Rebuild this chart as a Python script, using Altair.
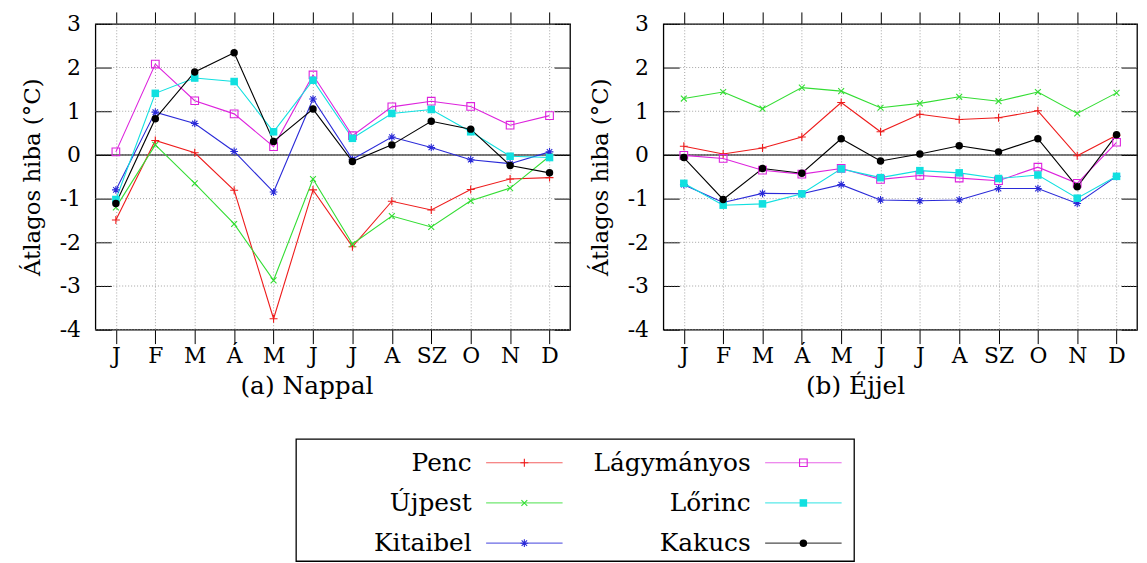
import altair as alt
import pandas as pd

months = ["J", "F", "M", "Á", "M", "J", "J", "A", "SZ", "O", "N", "D"]
stations = ["Penc", "Újpest", "Kitaibel", "Lágymányos", "Lőrinc", "Kakucs"]
colors = ["#ee1c1c", "#33dd33", "#2a2ad8", "#dd22dd", "#11e0e0", "#000000"]
y_ticks = [-4, -3, -2, -1, 0, 1, 2, 3]

# (a) Nappal
penc_day = [-1.49, 0.33, 0.05, -0.81, -3.75, -0.80, -2.10, -1.06, -1.26, -0.79, -0.55, -0.52]
ujpest_day = [-1.20, 0.23, -0.65, -1.58, -2.87, -0.55, -2.04, -1.40, -1.65, -1.05, -0.76, -0.03]
kitaibel_day = [-0.80, 0.98, 0.72, 0.08, -0.85, 1.28, -0.10, 0.41, 0.17, -0.11, -0.20, 0.07]
lagymanyos_day = [0.07, 2.08, 1.24, 0.94, 0.19, 1.83, 0.44, 1.10, 1.23, 1.11, 0.68, 0.90]
lorinc_day = [-1.02, 1.41, 1.76, 1.68, 0.53, 1.71, 0.38, 0.95, 1.04, 0.53, -0.03, -0.06]
kakucs_day = [-1.11, 0.83, 1.90, 2.34, 0.31, 1.05, -0.15, 0.23, 0.77, 0.59, -0.24, -0.41]

# (b) Éjjel
penc_night = [0.20, 0.02, 0.16, 0.41, 1.20, 0.53, 0.93, 0.81, 0.85, 1.01, -0.02, 0.45]
ujpest_night = [1.29, 1.44, 1.06, 1.54, 1.46, 1.08, 1.18, 1.33, 1.23, 1.44, 0.95, 1.42]
kitaibel_night = [-0.68, -1.09, -0.88, -0.89, -0.68, -1.03, -1.05, -1.03, -0.77, -0.77, -1.11, -0.49]
lagymanyos_night = [-0.01, -0.08, -0.35, -0.44, -0.31, -0.56, -0.47, -0.53, -0.59, -0.28, -0.65, 0.29]
lorinc_night = [-0.65, -1.15, -1.12, -0.89, -0.32, -0.52, -0.36, -0.41, -0.54, -0.46, -0.99, -0.49]
kakucs_night = [-0.06, -1.02, -0.31, -0.42, 0.37, -0.14, 0.02, 0.21, 0.07, 0.37, -0.73, 0.46]

day_series = [penc_day, ujpest_day, kitaibel_day, lagymanyos_day, lorinc_day, kakucs_day]
night_series = [penc_night, ujpest_night, kitaibel_night, lagymanyos_night, lorinc_night, kakucs_night]

FONT = "DejaVu Serif"

plus = "M-1,0L1,0M0,-1L0,1"
cross = "M-0.75,-0.75L0.75,0.75M-0.75,0.75L0.75,-0.75"
star = "M-1,0L1,0M0,-1L0,1M-0.7,-0.7L0.7,0.7M-0.7,0.7L0.7,-0.7"
shapes = [plus, cross, star, "square", "square", "circle"]
sizes = [64, 56, 72, 42, 45, 45]
leg_sizes = [36, 30, 40, 26, 30, 30]


def long_df(series):
    rows = []
    for st, vals in zip(stations, series):
        for i, v in enumerate(vals):
            rows.append({"station": st, "m": i, "v": v})
    return pd.DataFrame(rows)


month_expr = "[" + ",".join("'%s'" % m for m in months) + "][datum.value]"
minus_expr = "datum.value < 0 ? '-' + abs(datum.value) : '' + datum.value"

xscale = alt.Scale(domain=[-0.52, 11.52], nice=False, zero=False)
yscale = alt.Scale(domain=[-4, 3], nice=False, zero=False)
color = alt.Color("station:N", scale=alt.Scale(domain=stations, range=colors), legend=None)
shape = alt.Shape("station:N", scale=alt.Scale(domain=stations, range=shapes), legend=None)
size = alt.Size("station:N", scale=alt.Scale(domain=stations, range=sizes), legend=None)
leg_size = alt.Size("station:N", scale=alt.Scale(domain=stations, range=leg_sizes), legend=None)

x_bottom = alt.Axis(orient="bottom", values=list(range(12)), labelExpr=month_expr, tickSize=14,
                    domain=False, grid=True, gridDash=[1, 2], gridColor="#8c8c8c", gridWidth=0.8,
                    labelFont=FONT, labelFontSize=22, labelColor="black", labelPadding=2,
                    labelFlush=False, labelOverlap=False, title=None, minExtent=0)
x_top = alt.Axis(orient="top", values=list(range(12)), tickSize=12, labels=False, domain=False,
                 grid=False, title=None, minExtent=0)
y_left = alt.Axis(orient="left", values=y_ticks, labelExpr=minus_expr, offset=-16, tickSize=16,
                  domain=False, grid=False, labelPadding=15, labelFont=FONT, labelFontSize=22,
                  labelColor="black", labelFlush=False, title="Átlagos hiba (°C)", titleFont=FONT,
                  titleFontSize=23, titleFontWeight="normal", titleColor="black", titlePadding=15,
                  minExtent=0)
y_right = alt.Axis(orient="right", values=y_ticks, offset=-16, tickSize=16, labels=False,
                   domain=False, grid=False, title=None, minExtent=0)


def panel(series, caption, width, dx):
    df = long_df(series)
    base = alt.Chart(df)
    ygrid = alt.Chart(pd.DataFrame({"t": y_ticks})).mark_rule(
        color="#8c8c8c", strokeDash=[1, 2], strokeWidth=0.8
    ).encode(y=alt.Y("t:Q", scale=yscale, axis=None))
    zero = alt.Chart(pd.DataFrame({"z": [0]})).mark_rule(color="black", strokeWidth=1.1).encode(
        y=alt.Y("z:Q", scale=yscale, axis=None))
    lines = base.mark_line(strokeWidth=1.1).encode(
        x=alt.X("m:Q", scale=xscale, axis=x_bottom),
        y=alt.Y("v:Q", scale=yscale, axis=y_left),
        color=color,
    )
    pts_open = base.transform_filter(
        alt.FieldOneOfPredicate(field="station", oneOf=stations[:4])
    ).mark_point(filled=False, strokeWidth=1.1, opacity=1).encode(
        x=alt.X("m:Q", scale=xscale, axis=None),
        y=alt.Y("v:Q", scale=yscale, axis=None),
        color=color, shape=shape, size=size,
    )
    pts_fill = base.transform_filter(
        alt.FieldOneOfPredicate(field="station", oneOf=stations[4:])
    ).mark_point(filled=True, opacity=1).encode(
        x=alt.X("m:Q", scale=xscale, axis=None),
        y=alt.Y("v:Q", scale=yscale, axis=None),
        color=color, shape=shape, size=size,
    )
    mirror = base.mark_point(opacity=0).encode(
        x=alt.X("m:Q", scale=xscale, axis=x_top),
        y=alt.Y("v:Q", scale=yscale, axis=y_right),
    )
    return alt.layer(ygrid, zero, lines, pts_open, pts_fill, mirror).resolve_axis(
        x="independent", y="independent"
    ).properties(
        width=width, height=308,
        title=alt.TitleParams(caption, orient="bottom", anchor="middle", frame="bounds", font=FONT,
                              fontSize=25, fontWeight="normal", color="black", offset=8, dx=dx),
    )


left = panel(day_series, "(a) Nappal", 478, 11)
right = panel(night_series, "(b) Éjjel", 477, -8)

leg = pd.DataFrame({
    "station": stations,
    "col": [i // 3 for i in range(len(stations))],
    "row": [i % 3 for i in range(len(stations))],
})
lx = alt.X("col:Q", scale=alt.Scale(domain=[0, 1], range=[230, 511]), axis=None)
ly = alt.Y("row:Q", scale=alt.Scale(domain=[0, 2], range=[24, 105]), axis=None)
leg_base = alt.Chart(leg)
leg_lines = leg_base.mark_tick(orient="horizontal", size=77, thickness=1.2).encode(x=lx, y=ly, color=color)
leg_open = leg_base.transform_filter(
    alt.FieldOneOfPredicate(field="station", oneOf=stations[:4])
).mark_point(filled=False, strokeWidth=1.1, opacity=1).encode(x=lx, y=ly, color=color, shape=shape, size=leg_size)
leg_fill = leg_base.transform_filter(
    alt.FieldOneOfPredicate(field="station", oneOf=stations[4:])
).mark_point(filled=True, opacity=1).encode(x=lx, y=ly, color=color, shape=shape, size=leg_size)
leg_text = leg_base.mark_text(align="right", baseline="middle", dx=-53, font=FONT, fontSize=25,
                              color="black").encode(x=lx, y=ly, text="station:N")
legend = alt.layer(leg_lines, leg_open, leg_fill, leg_text).properties(width=562, height=123)

spacer = alt.Chart(pd.DataFrame({"s": [0]})).mark_point(opacity=0).encode(
    x=alt.value(0), y=alt.value(0)
).properties(width=200, height=123, view=alt.ViewBackground(stroke="transparent"))

chart = alt.vconcat(
    alt.hconcat(left, right, spacing=16),
    alt.hconcat(spacer, legend, spacing=0),
    spacing=35,
).properties(
    padding={"left": 12, "top": 0, "right": 0, "bottom": 0},
    background="white",
).configure_view(
    stroke="black", strokeWidth=1.3
).configure_axis(
    tickColor="black", tickWidth=1
)

chart.save("out.html", embed_options={"renderer": "svg", "actions": False})
